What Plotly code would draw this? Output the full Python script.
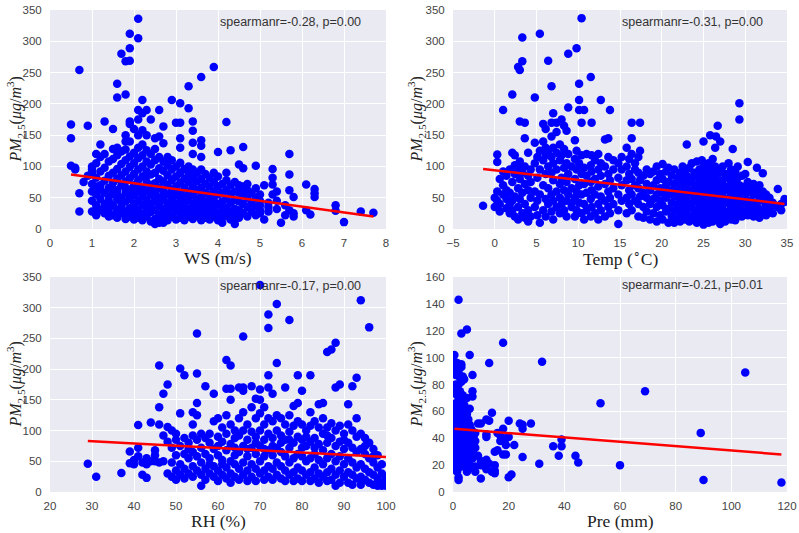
import plotly.graph_objects as go

# ---------------- data ----------------
# Each entry: (x value, [PM2.5 values observed at that x])
ws_cols = [
    (0.5, [167, 145, 101]), (0.6, [98, 95]), (0.7, [254, 57, 28]), (0.8, [75]),
    (0.9, [165, 85]), (1.0, [45, 72, 95, 28, 60, 100, 90]),
    (1.1, [38, 55, 82, 105, 22, 68, 120, 30, 25]), (1.2, [30, 48, 70, 92, 115, 62, 135]),
    (1.3, [25, 40, 58, 77, 98, 120, 35, 172]), (1.4, [32, 52, 66, 85, 108, 20, 45]),
    (1.5, [22, 38, 56, 74, 90, 112, 128, 64, 160]), (1.6, [18, 30, 47, 62, 80, 96, 118, 130, 55, 232, 210]),
    (1.7, [25, 36, 50, 70, 86, 104, 124, 42, 280]), (1.8, [16, 28, 44, 58, 76, 92, 110, 127, 65, 215, 268, 150, 140]),
    (1.9, [20, 33, 48, 63, 81, 99, 116, 140, 55, 269, 289, 312, 172, 168]),
    (2.0, [15, 26, 40, 54, 70, 88, 105, 122, 62, 35, 160]),
    (2.1, [18, 30, 45, 60, 78, 95, 113, 130, 150, 68, 336, 305, 190, 175]),
    (2.2, [14, 24, 38, 52, 66, 84, 100, 118, 135, 58, 206, 158, 185]),
    (2.3, [20, 33, 47, 61, 75, 92, 108, 126, 42, 85, 190, 150]),
    (2.4, [12, 27, 40, 55, 70, 87, 103, 120, 64, 175]),
    (2.5, [16, 30, 44, 58, 73, 90, 110, 128, 50, 8, 145]),
    (2.6, [10, 22, 36, 50, 66, 80, 97, 115, 43, 190, 148]),
    (2.7, [18, 32, 46, 60, 76, 93, 108, 55, 25, 10, 164, 137]),
    (2.8, [14, 26, 41, 55, 70, 86, 102, 115, 35]),
    (2.9, [20, 34, 48, 62, 78, 95, 110, 42, 206]),
    (3.0, [15, 28, 40, 54, 68, 84, 100, 60, 170]),
    (3.1, [18, 30, 45, 58, 74, 90, 106, 38, 201, 170, 145, 130]),
    (3.2, [14, 25, 38, 52, 66, 80, 96, 45]),
    (3.3, [20, 32, 46, 60, 75, 88, 100, 55, 228, 193]),
    (3.4, [16, 28, 40, 54, 68, 82, 95, 35, 172, 157, 138, 120]),
    (3.5, [22, 34, 48, 62, 76, 90, 42]),
    (3.6, [14, 26, 38, 52, 66, 80, 95, 45, 243, 142, 133, 115]),
    (3.7, [18, 30, 44, 58, 72, 88, 36]),
    (3.8, [15, 27, 40, 54, 68, 82, 48]),
    (3.9, [20, 32, 46, 60, 75, 90, 38, 259]),
    (4.0, [14, 26, 40, 55, 68, 84, 123]),
    (4.1, [18, 30, 44, 58, 72, 36, 10]),
    (4.2, [22, 34, 48, 62, 78, 90, 171]),
    (4.3, [16, 28, 42, 56, 70, 126, 15]),
    (4.4, [20, 32, 46, 60, 75, 8]),
    (4.5, [18, 30, 44, 58, 70, 103]),
    (4.6, [25, 40, 55, 68, 131, 97]),
    (4.7, [20, 35, 50, 62, 72]),
    (4.8, [28, 42, 58]),
    (4.9, [22, 36, 50, 65, 101]),
    (5.0, [30, 45, 38, 55, 25]),
    (5.1, [70, 15]),
    (5.2, [28, 42, 35]),
    (5.3, [96, 82, 71, 55]),
    (5.4, [32, 45, 60]),
    (5.5, [10]),
    (5.6, [22, 38]),
    (5.7, [120, 87, 62, 30]),
    (5.8, [51, 25, 20]),
    (6.1, [71, 30]),
    (6.2, [23]),
    (6.3, [64, 57, 51]),
    (6.8, [38, 29]),
    (7.0, [11]),
    (7.4, [28]),
    (7.7, [26]),
]

temp_cols = [
    (-1.4, [37]), (0.0, [35, 50]), (0.3, [60, 107, 119, 45]), (0.6, [80, 40, 28]),
    (1.0, [190, 55, 70, 92]), (1.4, [48, 33, 62, 85]), (1.8, [25, 58, 95, 40]),
    (2.1, [215, 122, 75, 45, 30]), (2.4, [118, 102, 52, 20, 88]), (2.8, [259, 35, 65, 98, 15]),
    (3.0, [254, 172, 48, 80, 108]), (3.3, [306, 268, 25, 58, 90]), (3.6, [170, 145, 40, 72, 100, 18]),
    (4.0, [12, 30, 62, 85, 122]), (4.3, [50, 95, 75, 20]), (4.8, [210, 138, 35, 60, 105]),
    (5.1, [22, 45, 82, 115]), (5.4, [312, 10, 55, 95, 125]), (5.8, [168, 30, 70, 110, 140]),
    (6.1, [20, 48, 88, 130, 160, 118]), (6.4, [269, 40, 65, 100, 125]),
    (6.8, [228, 170, 28, 55, 90, 115, 148]), (7.0, [185, 15, 45, 78, 105, 130]),
    (7.4, [170, 35, 60, 95, 122, 155]), (7.8, [25, 50, 72, 110, 135]), (8.0, [175, 40, 82, 118]),
    (8.3, [165, 30, 62, 98, 128]), (8.6, [157, 20, 45, 75, 105]), (8.8, [194, 280, 55, 88, 120]),
    (9.2, [35, 65, 100, 42]), (9.6, [142, 20, 50, 80, 112]), (9.8, [289, 30, 60, 95, 125]),
    (10.1, [232, 206, 190, 42, 70, 105]), (10.4, [337, 170, 25, 55, 88, 118]),
    (10.7, [190, 15, 40, 72, 98]), (11.0, [30, 58, 85, 120]), (11.5, [243, 20, 48, 75, 102]),
    (11.6, [170, 35, 62, 92, 118]), (12.0, [25, 55, 80, 110]), (12.4, [40, 68, 95, 120, 15]),
    (12.7, [206, 30, 52, 85, 105]), (13.2, [143, 20, 45, 72, 100]), (13.6, [145, 35, 60, 88, 115]),
    (13.8, [190, 25, 50, 78]), (14.2, [40, 65, 95, 110]), (14.8, [8, 30, 55, 82, 105]),
    (15.2, [45, 70, 95, 115]), (15.8, [130, 25, 50, 78, 100]), (16.1, [40, 62, 88, 112]),
    (16.4, [145, 170, 30, 55, 80, 120]), (16.8, [45, 70, 95, 105]), (17.2, [20, 40, 65, 90, 115]),
    (17.4, [170, 125, 52, 78]), (17.8, [18, 35, 58, 85]), (18.2, [28, 50, 72, 95]),
    (18.6, [15, 40, 62, 88]), (19.0, [25, 48, 70, 92]), (19.4, [12, 35, 55, 78, 100]),
    (19.8, [22, 45, 65, 88]), (20.1, [15, 38, 58, 80, 104]), (20.5, [28, 50, 70, 92]),
    (20.8, [10, 32, 55, 75, 98]), (21.2, [20, 42, 62, 85]), (21.5, [10, 30, 52, 72, 95]),
    (21.9, [18, 40, 60, 82]), (22.2, [12, 28, 48, 70, 90]), (22.5, [22, 38, 58, 78, 100]),
    (22.8, [15, 32, 52, 72, 92]), (23.0, [135, 25, 45, 65, 85]), (23.3, [12, 35, 55, 75, 98]),
    (23.6, [20, 40, 60, 80, 105]), (23.9, [15, 30, 50, 70, 90]), (24.2, [10, 25, 45, 65, 85, 108]),
    (24.5, [18, 35, 55, 75, 95]), (24.8, [12, 28, 48, 68, 88, 110]),
    (25.0, [140, 7, 22, 40, 60, 80, 100]), (25.3, [15, 32, 52, 72, 92]),
    (25.6, [10, 25, 45, 65, 85, 105]), (25.8, [150, 18, 38, 58, 78, 98]),
    (26.1, [12, 30, 50, 70, 90, 112]), (26.4, [130, 20, 40, 60, 80, 100]),
    (26.5, [148, 15, 35, 55, 75, 95]), (26.7, [165, 25, 45, 65, 88]),
    (27.0, [140, 8, 30, 50, 70, 92]), (27.3, [18, 38, 58, 78, 100]), (27.6, [12, 28, 48, 68, 88]),
    (28.0, [22, 42, 62, 82, 105]), (28.3, [15, 35, 55, 75, 95]), (28.5, [128, 25, 45, 65, 85]),
    (28.8, [14, 32, 52, 72, 92]), (29.1, [22, 42, 62, 82, 100]), (29.3, [201, 175, 30, 50, 70]),
    (29.6, [20, 40, 60, 85]), (30.0, [28, 48, 68, 88]), (30.3, [107, 22, 38, 58, 75]),
    (30.7, [30, 45, 65]), (31.0, [20, 35, 55, 72]), (31.4, [98, 25, 42, 62]),
    (31.7, [18, 32, 50, 70]), (32.1, [89, 28, 45, 60]), (32.5, [22, 38, 55]),
    (32.9, [30, 45, 50]), (33.3, [25, 38, 42]), (33.9, [64, 35]), (34.3, [30, 40]),
    (34.7, [48, 43]),
]

rh_cols = [
    (29, [46]), (31, [25]), (37, [31]), (39, [66, 47]), (40, [45, 52]), (41, [109, 72, 58]),
    (42, [28, 48]), (43, [23, 55, 45]), (44, [113, 50]), (45, [68, 50, 60]),
    (46, [206, 138, 110, 48]), (47, [160, 92, 50]), (48, [175, 106, 82, 30]),
    (49, [100, 72, 48, 25]), (50, [85, 60, 35, 20, 95]), (51, [201, 128, 75, 45, 28]),
    (52, [190, 88, 62, 38, 22]), (53, [80, 55, 30, 70]), (54, [130, 110, 92, 65, 42, 25]),
    (55, [258, 193, 145, 125, 85, 58, 35]), (56, [10, 48, 72, 95, 28]),
    (57, [172, 88, 62, 38, 20]), (58, [80, 55, 30, 95, 45]), (59, [160, 115, 70, 42, 25]),
    (60, [120, 90, 60, 35, 18, 75]), (61, [105, 82, 52, 28, 45]),
    (62, [215, 168, 125, 95, 68, 40, 22]), (63, [206, 168, 150, 110, 78, 50, 30, 15]),
    (64, [100, 72, 45, 25, 60, 88]), (65, [170, 120, 92, 65, 38, 20]),
    (66, [253, 170, 165, 130, 100, 75, 48, 28]), (67, [110, 85, 58, 35, 18, 70]),
    (68, [172, 138, 98, 72, 45, 25]), (69, [152, 120, 90, 62, 38, 18, 80]),
    (70, [337, 167, 150, 128, 100, 75, 50, 30]), (71, [138, 110, 85, 58, 35, 20, 70]),
    (72, [289, 267, 190, 170, 120, 95, 68, 42, 25]), (73, [160, 115, 88, 60, 38, 20, 75]),
    (74, [306, 210, 125, 100, 72, 48, 28]), (75, [120, 92, 65, 42, 22, 80]),
    (76, [170, 110, 85, 58, 35, 18]), (77, [280, 125, 98, 72, 48, 28, 85]),
    (78, [140, 108, 80, 55, 32, 18]), (79, [190, 145, 115, 90, 62, 40, 22]),
    (80, [165, 110, 85, 58, 35, 18, 72]), (81, [100, 75, 50, 28, 90]),
    (82, [190, 130, 108, 82, 55, 32, 18]), (83, [115, 88, 62, 40, 22, 72]),
    (84, [143, 105, 78, 52, 30, 15]), (85, [145, 120, 95, 68, 45, 25]),
    (86, [228, 105, 80, 55, 32, 18, 92]), (87, [232, 112, 88, 62, 38, 20]),
    (88, [243, 170, 100, 75, 50, 28, 10]), (89, [175, 108, 82, 58, 35, 15]),
    (90, [95, 70, 45, 25, 85]), (91, [143, 110, 80, 55, 32, 15]),
    (92, [172, 100, 72, 48, 28, 12]), (93, [186, 120, 90, 65, 40, 22]),
    (94, [312, 95, 70, 45, 25, 12]), (95, [88, 62, 38, 20, 75]), (96, [268, 80, 55, 32, 15]),
    (97, [70, 48, 28, 12, 58]), (98, [60, 40, 22, 10]), (99, [45, 30, 15, 10]),
    (100, [24, 10, 18]),
]

pre_cols = [
    (0.5, [102, 97, 93, 74, 64, 58, 52, 45, 38, 30, 25, 20, 17, 35, 48]),
    (1, [87, 80, 73, 62, 55, 50, 42, 36, 28, 22, 18, 60, 66]),
    (1.5, [96, 90, 76, 65, 57, 47, 40, 33, 26, 20, 15, 53]),
    (2, [143, 89, 80, 70, 60, 52, 45, 38, 30, 24, 18, 11, 9]),
    (2.5, [85, 75, 64, 55, 48, 41, 34, 27, 21]),
    (3, [118, 95, 93, 82, 68, 58, 50, 43, 37, 31, 25, 19]),
    (3.5, [86, 72, 60, 52, 45, 38, 30, 22]), (4, [84, 65, 55, 47, 40, 33, 27, 20]),
    (4.5, [62, 50, 44, 36, 29, 23]), (5, [121, 70, 58, 48, 42, 35, 28, 15]),
    (5.5, [54, 45, 38, 31, 24]), (6, [102, 62, 50, 43, 36, 28, 20]), (6.5, [47, 40, 33, 26]),
    (7, [87, 75, 71, 45, 38, 25, 18]), (7.5, [42, 35, 28]), (8, [44, 38, 33, 19, 15]),
    (9, [51, 27]), (10, [51, 23, 20, 10]), (11, [22]), (12, [54, 43, 41, 17, 24]),
    (13, [96, 53, 21]), (14, [59, 15]), (15, [30, 20, 16, 14]), (16, [31, 44]),
    (17, [42, 38]), (18, [111, 47, 28]), (19, [40, 28, 35]), (20, [53, 41, 11]),
    (21, [13]), (22, [35]), (24, [51]), (25, [50, 47, 26]), (28, [51]), (31, [21]),
    (32, [97]), (36, [34]), (38, [27]), (39, [39, 34]), (44, [27]), (45, [22]),
    (53, [66]), (60, [20]), (69, [75]), (89, [44]), (90, [9]), (105, [89]), (118, [7]),
]

# fitted regression lines: (intercept, slope)
ws_fit = (91.7, -9.31)
temp_fit = (93.8, -1.55)
rh_fit = (93.6, -0.366)
pre_fit = (47.1, -0.162)

stats_text = ["spearmanr=-0.28, p=0.00", "spearmanr=-0.31, p=0.00",
              "spearmanr=-0.17, p=0.00", "spearmanr=-0.21, p=0.01"]
x_titles = ["WS (m/s)", "Temp (<sup>\u2218</sup>C)", "RH (%)", "Pre (mm)"]
y_title = "<i>PM</i><sub>2.5</sub>(<i>\u03bcg</i>/<i>m</i><sup>3</sup>)"

# ---------------- figure ----------------
def flatten(cols):
    xs, ys = [], []
    for xv, yl in cols:
        for yv in yl:
            xs.append(xv)
            ys.append(yv)
    return xs, ys

panels = [
    (ws_cols, ws_fit, [0, 8], 1, [0, 350], 50),
    (temp_cols, temp_fit, [-5, 35], 5, [0, 350], 50),
    (rh_cols, rh_fit, [20, 100], 10, [0, 350], 50),
    (pre_cols, pre_fit, [0, 120], 20, [0, 160], 20),
]

W, H = 799, 533
ml, mr, mt, mb = 50, 12, 10, 41
pw, ph = W - ml - mr, H - mt - mb
xdoms = [[0, (386 - ml) / pw], [(453 - ml) / pw, 1]]
ydoms = [[(H - mb - 229) / ph, 1], [0, (H - mb - 277) / ph]]
ann_y = [0.945, 0.945, 0.958, 0.965]
ytitle_shift = [-35, -37]

fig = go.Figure()
layout = {}
tick_font = dict(family="Liberation Sans", size=11.5, color="#444")
title_font = dict(family="Liberation Serif", size=17.5, color="#222")
ytitle_font = dict(family="Liberation Serif", size=16, color="#222")
clear = "rgba(0,0,0,0)"

for i, (cols, fit, xr, xd, yr, yd) in enumerate(panels):
    r, c = divmod(i, 2)
    sfx = "" if i == 0 else str(i + 1)
    xs, ys = flatten(cols)
    fig.add_trace(go.Scatter(x=xs, y=ys, mode="markers", xaxis="x" + sfx, yaxis="y" + sfx,
                             marker=dict(color="#0000FF", size=8.5, line=dict(width=0)),
                             showlegend=False, hoverinfo="skip"))
    x0, x1 = min(xs), max(xs)
    fig.add_trace(go.Scatter(x=[x0, x1], y=[fit[0] + fit[1] * x0, fit[0] + fit[1] * x1],
                             mode="lines", xaxis="x" + sfx, yaxis="y" + sfx,
                             line=dict(color="#FF0000", width=2.5), showlegend=False,
                             hoverinfo="skip"))
    layout["xaxis" + sfx] = dict(domain=xdoms[c], anchor="y" + sfx, range=xr, dtick=xd, tick0=0,
                                 showgrid=True, gridcolor="white", gridwidth=1, zeroline=False,
                                 showline=False, ticks="outside", ticklen=3, tickcolor=clear,
                                 tickfont=tick_font, automargin=False)
    layout["yaxis" + sfx] = dict(domain=ydoms[r], anchor="x" + sfx, range=yr, dtick=yd, tick0=0,
                                 showgrid=True, gridcolor="white", gridwidth=1, zeroline=False,
                                 showline=False, ticks="outside", ticklen=5, tickcolor=clear,
                                 tickfont=tick_font, automargin=False)
    xd_ref, yd_ref = "x" + sfx + " domain", "y" + sfx + " domain"
    # axis titles
    fig.add_annotation(text=x_titles[i], xref=xd_ref, yref=yd_ref, x=0.5, y=0,
                       xanchor="center", yanchor="middle", yshift=-29, showarrow=False,
                       font=title_font)
    fig.add_annotation(text=y_title, xref=xd_ref, yref=yd_ref, x=0, y=0.5, textangle=-90,
                       xanchor="center", yanchor="middle", xshift=ytitle_shift[c],
                       showarrow=False, font=ytitle_font)
    fig.add_annotation(text=stats_text[i], xref=xd_ref, yref=yd_ref,
                       x=0.5, y=ann_y[i], xanchor="left", yanchor="middle", showarrow=False,
                       font=dict(family="Liberation Sans", size=12.5, color="#333"))
    fig.add_shape(type="rect", xref=xd_ref, yref=yd_ref,
                  x0=0, x1=1, y0=0, y1=1, fillcolor="#EAEAF2", line=dict(width=0), layer="below")

fig.update_layout(width=W, height=H, margin=dict(l=ml, r=mr, t=mt, b=mb),
                  paper_bgcolor="white", plot_bgcolor="white", **layout)

fig.write_html("out.html", config={"displayModeBar": False},
               post_script="document.body.style.margin='0';")
